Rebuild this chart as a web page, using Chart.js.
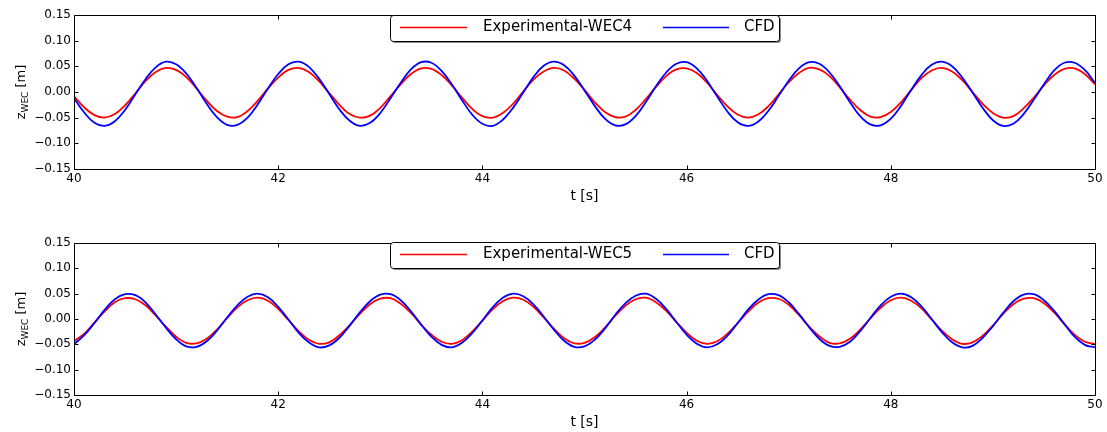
<!DOCTYPE html>
<html><head><meta charset="utf-8">
<script src="https://cdn.jsdelivr.net/npm/chart.js@4.4.1/dist/chart.umd.min.js"></script>
<style>
html,body{margin:0;padding:0;background:#fff;}
#wrap{position:relative;width:1107px;height:432px;background:#fff;}
canvas{position:absolute;left:0;}
</style>
</head><body>
<div id="wrap">
<canvas id="c1" width="1107" height="216" style="top:0px"></canvas>
<canvas id="c2" width="1107" height="216" style="top:216px"></canvas>
</div>
<script>
// time axis [s]
const tSec = [40.0,40.1,40.2,40.3,40.4,40.5,40.6,40.7,40.8,40.9,
41.0,41.1,41.2,41.3,41.4,41.5,41.6,41.7,41.8,41.9,
42.0,42.1,42.2,42.3,42.4,42.5,42.6,42.7,42.8,42.9,
43.0,43.1,43.2,43.3,43.4,43.5,43.6,43.7,43.8,43.9,
44.0,44.1,44.2,44.3,44.4,44.5,44.6,44.7,44.8,44.9,
45.0,45.1,45.2,45.3,45.4,45.5,45.6,45.7,45.8,45.9,
46.0,46.1,46.2,46.3,46.4,46.5,46.6,46.7,46.8,46.9,
47.0,47.1,47.2,47.3,47.4,47.5,47.6,47.7,47.8,47.9,
48.0,48.1,48.2,48.3,48.4,48.5,48.6,48.7,48.8,48.9,
49.0,49.1,49.2,49.3,49.4,49.5,49.6,49.7,49.8,49.9,50.0];

// top panel: WEC4 heave [m]
const expWec4 = [-0.008,-0.030,-0.045,-0.050,-0.043,-0.026,-0.003,0.021,0.039,0.047,
0.043,0.029,0.007,-0.017,-0.037,-0.048,-0.049,-0.037,-0.017,0.007,
0.028,0.043,0.047,0.039,0.021,-0.002,-0.025,-0.043,-0.050,-0.046,
-0.031,-0.008,0.015,0.035,0.046,0.045,0.033,0.013,-0.011,-0.033,
-0.047,-0.050,-0.041,-0.023,0.001,0.024,0.040,0.047,0.042,0.026,
0.004,-0.020,-0.039,-0.049,-0.048,-0.035,-0.014,0.010,0.031,0.044,
0.046,0.037,0.018,-0.006,-0.028,-0.044,-0.050,-0.044,-0.028,-0.005,
0.019,0.037,0.047,0.044,0.031,0.009,-0.015,-0.035,-0.048,-0.049,
-0.039,-0.020,0.004,0.027,0.042,0.047,0.040,0.023,0.000,-0.023,
-0.041,-0.050,-0.047,-0.032,-0.011,0.013,0.033,0.045,0.046,0.035,0.015];
const cfdWec4 = [-0.012,-0.040,-0.060,-0.066,-0.057,-0.035,-0.005,0.025,0.048,0.059,
0.054,0.036,0.008,-0.023,-0.049,-0.064,-0.064,-0.050,-0.024,0.007,
0.035,0.054,0.059,0.049,0.026,-0.004,-0.034,-0.056,-0.066,-0.060,
-0.041,-0.012,0.018,0.044,0.058,0.057,0.041,0.015,-0.016,-0.044,
-0.062,-0.066,-0.054,-0.031,-0.001,0.029,0.051,0.059,0.052,0.032,
0.003,-0.027,-0.052,-0.065,-0.063,-0.047,-0.020,0.011,0.038,0.055,
0.058,0.046,0.022,-0.009,-0.038,-0.059,-0.066,-0.058,-0.037,-0.008,
0.022,0.046,0.058,0.055,0.038,0.011,-0.020,-0.047,-0.063,-0.065,
-0.052,-0.027,0.004,0.033,0.053,0.059,0.050,0.028,-0.001,-0.031,
-0.055,-0.066,-0.062,-0.043,-0.015,0.015,0.042,0.057,0.057,0.043,0.018];

// bottom panel: WEC5 heave [m]
const expWec5 = [-0.044,-0.029,-0.007,0.015,0.033,0.041,0.039,0.027,0.007,-0.015,
-0.035,-0.047,-0.048,-0.039,-0.021,0.002,0.023,0.037,0.042,0.036,
0.020,-0.002,-0.024,-0.041,-0.049,-0.046,-0.032,-0.012,0.010,0.029,
0.040,0.041,0.030,0.012,-0.011,-0.031,-0.045,-0.049,-0.042,-0.025,
-0.003,0.019,0.035,0.042,0.038,0.024,0.003,-0.019,-0.038,-0.048,
-0.047,-0.036,-0.017,0.006,0.026,0.039,0.042,0.033,0.016,-0.006,
-0.027,-0.043,-0.049,-0.044,-0.029,-0.008,0.014,0.032,0.041,0.040,
0.028,0.008,-0.015,-0.034,-0.047,-0.048,-0.039,-0.021,0.001,0.022,
0.037,0.042,0.036,0.021,-0.001,-0.023,-0.040,-0.049,-0.046,-0.033,
-0.013,0.010,0.029,0.040,0.041,0.031,0.013,-0.010,-0.031,-0.045,-0.049];
const cfdWec5 = [-0.050,-0.032,-0.008,0.018,0.039,0.049,0.047,0.033,0.009,-0.017,
-0.040,-0.054,-0.055,-0.044,-0.023,0.003,0.027,0.044,0.050,0.043,
0.024,-0.001,-0.027,-0.046,-0.056,-0.052,-0.037,-0.013,0.013,0.035,
0.048,0.049,0.037,0.015,-0.011,-0.035,-0.051,-0.056,-0.047,-0.028,
-0.003,0.023,0.042,0.050,0.045,0.029,0.005,-0.021,-0.043,-0.055,
-0.054,-0.041,-0.019,0.008,0.031,0.046,0.050,0.040,0.020,-0.006,
-0.031,-0.049,-0.056,-0.050,-0.033,-0.008,0.018,0.038,0.049,0.047,
0.033,0.010,-0.016,-0.039,-0.053,-0.055,-0.045,-0.024,0.002,0.027,
0.044,0.050,0.043,0.025,0.000,-0.026,-0.046,-0.056,-0.053,-0.037,
-0.014,0.012,0.035,0.048,0.049,0.037,0.016,-0.010,-0.035,-0.051,-0.056];

const namesWec4 = ['Experimental-WEC4', 'CFD'];
const namesWec5 = ['Experimental-WEC5', 'CFD'];
const yTickVals = [-0.15, -0.10, -0.05, 0.00, 0.05, 0.10, 0.15];
const xTickVals = [40, 42, 44, 46, 48, 50];
const xTitle = 't [s]';
const yTitleMain = 'z', yTitleSub = 'WEC', yTitleUnit = ' [m]';

Chart.defaults.font.family = "'DejaVu Sans', sans-serif";
Chart.defaults.color = '#000';

function fmtY(v) {
  if (Math.abs(v) < 1e-9) return '0.00';
  return (v < 0 ? '\u2212' : '') + Math.abs(v).toFixed(2);
}

const framePlugin = {
  id: 'frame',
  afterDraw(chart, args, opts) {
    const ctx = chart.ctx, ca = chart.chartArea;
    const xs = chart.scales.x, ys = chart.scales.y;
    const L = Math.round(ca.left) + 0.5, R = Math.round(ca.right) + 0.5;
    const T = Math.round(ca.top) + 0.5, B = Math.round(ca.bottom) + 0.5;
    ctx.save();
    ctx.strokeStyle = '#000';
    ctx.lineWidth = 1;
    ctx.beginPath();
    ctx.rect(L, T, R - L, B - T);
    ctx.stroke();
    ctx.beginPath();
    yTickVals.forEach(v => {
      const py = Math.round(ys.getPixelForValue(v)) + 0.5;
      ctx.moveTo(L, py); ctx.lineTo(L + 4, py);
      ctx.moveTo(R, py); ctx.lineTo(R - 4, py);
    });
    xTickVals.forEach(v => {
      const px = Math.round(xs.getPixelForValue(v)) + 0.5;
      ctx.moveTo(px, B); ctx.lineTo(px, B - 4);
      ctx.moveTo(px, T); ctx.lineTo(px, T + 4);
    });
    ctx.stroke();

    // y-axis title with subscript
    const cy = (ca.top + ca.bottom) / 2;
    ctx.translate(opts.yLabelX, cy);
    ctx.rotate(-Math.PI / 2);
    ctx.fillStyle = '#000';
    ctx.textBaseline = 'alphabetic';
    ctx.textAlign = 'left';
    const fMain = "13px 'DejaVu Sans'", fSub = "9px 'DejaVu Sans'";
    ctx.font = fMain; const wz = ctx.measureText(yTitleMain).width; const wu = ctx.measureText(yTitleUnit).width;
    ctx.font = fSub; const ws = ctx.measureText(yTitleSub).width;
    let x0 = -(wz + ws + wu) / 2;
    ctx.font = fMain; ctx.fillText(yTitleMain, x0, 0);
    ctx.font = fSub; ctx.fillText(yTitleSub, x0 + wz, 3);
    ctx.font = fMain; ctx.fillText(yTitleUnit, x0 + wz + ws, 0);
    ctx.restore();

    // legend box
    const bx = 390, by = opts.legendTop, bw = 389, bh = 26;
    ctx.save();
    ctx.fillStyle = 'rgba(0,0,0,0.45)';
    ctx.beginPath(); ctx.roundRect(bx + 2, by + 2, bw, bh, 3); ctx.fill();
    ctx.fillStyle = '#fff';
    ctx.beginPath(); ctx.roundRect(bx + 0.5, by + 0.5, bw, bh, 3); ctx.fill();
    ctx.strokeStyle = '#000'; ctx.lineWidth = 1; ctx.stroke();
    const ly = by + 12.5;
    const items = [
      { ds: chart.data.datasets[0], x1: bx + 10, x2: bx + 77, tx: bx + 93 },
      { ds: chart.data.datasets[1], x1: bx + 273, x2: bx + 339, tx: bx + 354 }
    ];
    ctx.font = "15px 'DejaVu Sans'";
    ctx.textBaseline = 'middle';
    ctx.textAlign = 'left';
    items.forEach(it => {
      ctx.strokeStyle = it.ds.borderColor; ctx.lineWidth = 1.5;
      ctx.beginPath(); ctx.moveTo(it.x1, ly); ctx.lineTo(it.x2, ly); ctx.stroke();
      ctx.fillStyle = '#000';
      ctx.fillText(it.ds.label, it.tx, ly);
    });
    ctx.restore();
  }
};

function makeChart(id, expArr, cfdArr, names, padTop, plotBottom, titlePadBottom, legendTop) {
  const H = 216;
  return new Chart(document.getElementById(id), {
    type: 'line',
    data: {
      datasets: [
        { label: names[0], data: tSec.map((t, i) => ({ x: t, y: expArr[i] })),
          borderColor: '#ff0000', borderWidth: 1.8, pointRadius: 0, tension: 0.4, order: 1, fill: false },
        { label: names[1], data: tSec.map((t, i) => ({ x: t, y: cfdArr[i] })),
          borderColor: '#0000ff', borderWidth: 1.8, pointRadius: 0, tension: 0.4, order: 0, fill: false }
      ]
    },
    options: {
      responsive: false,
      animation: false,
      devicePixelRatio: 1,
      layout: { padding: { top: padTop, right: 12, left: 0, bottom: 0 } },
      plugins: {
        legend: { display: false },
        tooltip: { enabled: false },
        frame: { legendTop: legendTop, yLabelX: 25 }
      },
      scales: {
        x: {
          type: 'linear', min: 40, max: 50,
          afterBuildTicks: s => { s.ticks = xTickVals.map(v => ({ value: v })); },
          afterFit: s => { s.height = H - plotBottom; },
          grid: { display: false, drawTicks: false },
          border: { display: false },
          ticks: { font: { size: 12 }, color: '#000', padding: 3, maxRotation: 0, callback: v => String(v) },
          title: { display: true, text: xTitle, font: { size: 14 }, color: '#000', padding: { top: 0, bottom: titlePadBottom } }
        },
        y: {
          type: 'linear', min: -0.15, max: 0.15,
          afterBuildTicks: s => { s.ticks = yTickVals.map(v => ({ value: v })); },
          afterFit: s => { s.width = 74; },
          grid: { display: false, drawTicks: false },
          border: { display: false },
          ticks: { font: { size: 12 }, color: '#000', padding: 3, callback: v => fmtY(v) }
        }
      }
    },
    plugins: [framePlugin]
  });
}

makeChart('c1', expWec4, cfdWec4, namesWec4, 15, 169, 11, 15);
makeChart('c2', expWec5, cfdWec5, namesWec5, 27, 179, 1, 26);
</script>
</body></html>
